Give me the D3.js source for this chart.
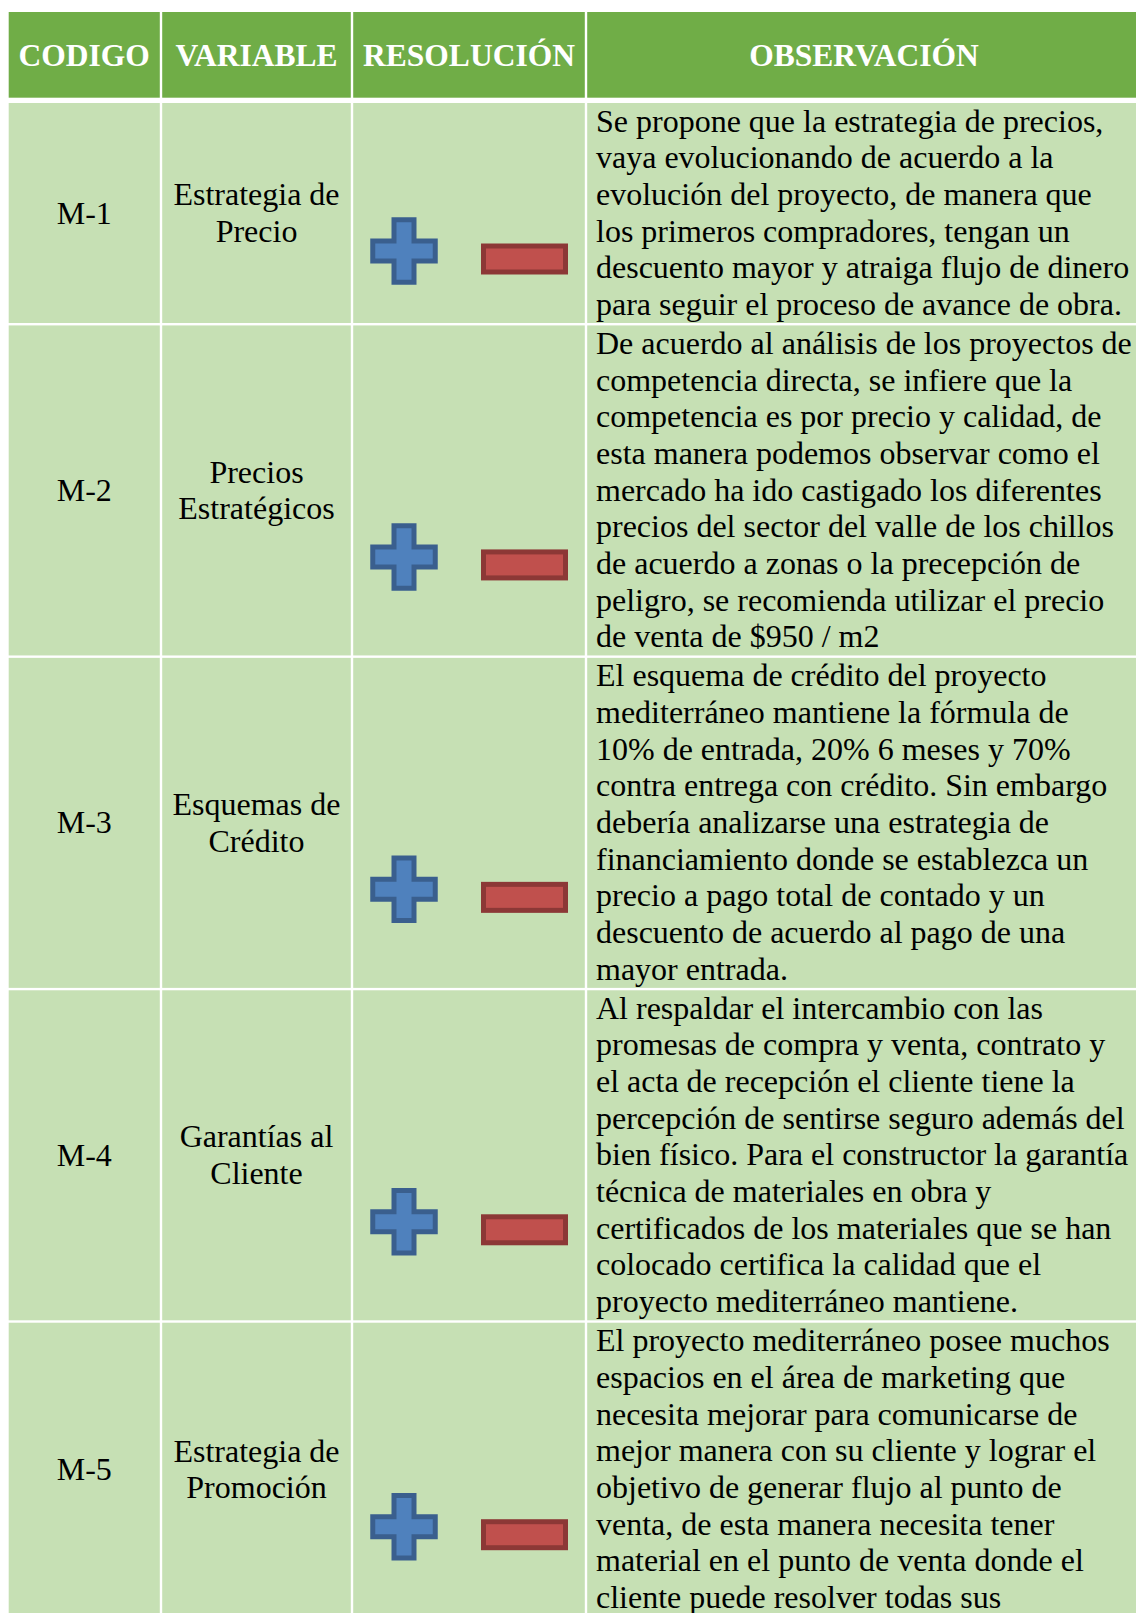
<!DOCTYPE html>
<html>
<head>
<meta charset="utf-8">
<script src="https://cdn.jsdelivr.net/npm/d3@7"></script>
<style>
  html, body { margin: 0; padding: 0; background: #ffffff; }
  svg { display: block; }
</style>
</head>
<body>
<div id="chart"></div>
<script>
// ---------------- DATA ----------------
const headers = ["CODIGO", "VARIABLE", "RESOLUCIÓN", "OBSERVACIÓN"];

const codes = ["M-1", "M-2", "M-3", "M-4", "M-5"];

const variables = [
  ["Estrategia de", "Precio"],
  ["Precios", "Estratégicos"],
  ["Esquemas de", "Crédito"],
  ["Garantías al", "Cliente"],
  ["Estrategia de", "Promoción"]
];

const resolutions = [
  ["mas", "menos"],
  ["mas", "menos"],
  ["mas", "menos"],
  ["mas", "menos"],
  ["mas", "menos"]
];

const observations = [
  ["Se propone que la estrategia de precios,",
   "vaya evolucionando de acuerdo a la",
   "evolución del proyecto, de manera que",
   "los primeros compradores, tengan un",
   "descuento mayor y atraiga flujo de dinero",
   "para seguir el proceso de avance de obra."],
  ["De acuerdo al análisis de los proyectos de",
   "competencia directa, se infiere que la",
   "competencia es por precio y calidad, de",
   "esta manera podemos observar como el",
   "mercado ha ido castigado los diferentes",
   "precios del sector del valle de los chillos",
   "de acuerdo a zonas o la precepción de",
   "peligro, se recomienda utilizar el precio",
   "de venta de $950 / m2"],
  ["El esquema de crédito del proyecto",
   "mediterráneo mantiene la fórmula de",
   "10% de entrada, 20% 6 meses y 70%",
   "contra entrega con crédito. Sin embargo",
   "debería analizarse una estrategia de",
   "financiamiento donde se establezca un",
   "precio a pago total de contado y un",
   "descuento de acuerdo al pago de una",
   "mayor entrada."],
  ["Al respaldar el intercambio con las",
   "promesas de compra y venta, contrato y",
   "el acta de recepción el cliente tiene la",
   "percepción de sentirse seguro además del",
   "bien físico. Para el constructor la garantía",
   "técnica de materiales en obra y",
   "certificados de los materiales que se han",
   "colocado certifica la calidad que el",
   "proyecto mediterráneo mantiene."],
  ["El proyecto mediterráneo posee muchos",
   "espacios en el área de marketing que",
   "necesita mejorar para comunicarse de",
   "mejor manera con su cliente y lograr el",
   "objetivo de generar flujo al punto de",
   "venta, de esta manera necesita tener",
   "material en el punto de venta donde el",
   "cliente puede resolver todas sus"]
];

// ---------------- LAYOUT ----------------
const W = 1136, H = 1613;
const FONT = "'Liberation Serif', 'Times New Roman', Times, serif";
const HEADER_BG = "#70ad47";
const BODY_BG = "#c6e0b4";
const GRID = 2.4;          // white rule width
const LINE_H = 36.67;      // body line height
const BASE_OFF = 28.5;     // first baseline offset within a row
const headerTop = 12, headerBottom = 97.7, firstRowTop = 103;
// vertical anchor of the floating +/- pictures inside each row (from row top)
const iconOffset = [148, 231.5, 231.5, 231.5, 204];

// column edges through an ordinal scale
const colEdges = d3.scaleOrdinal().domain(d3.range(5)).range([8.7, 161, 352, 586, 1142]);

// row extents
const rows = [];
let y = firstRowTop;
observations.forEach((obs, i) => {
  const h = obs.length * LINE_H;
  rows.push({ i, top: y, bottom: y + h });
  y += h + GRID;
});

const svg = d3.select("#chart").append("svg")
  .attr("width", W).attr("height", H)
  .attr("viewBox", `0 0 ${W} ${H}`);

svg.append("rect").attr("width", W).attr("height", H).attr("fill", "#ffffff");

const half = GRID / 2;
function cellX(c) { return colEdges(c) + (c === 0 ? 0 : half); }
function cellW(c) { return colEdges(c + 1) - half - cellX(c); }

// ---- header ----
const gh = svg.append("g");
gh.selectAll("rect").data(headers).join("rect")
  .attr("x", (d, c) => cellX(c))
  .attr("y", headerTop)
  .attr("width", (d, c) => cellW(c))
  .attr("height", headerBottom - headerTop)
  .attr("fill", HEADER_BG);
gh.selectAll("text").data(headers).join("text")
  .attr("x", (d, c) => cellX(c) + cellW(c) / 2)
  .attr("y", (headerTop + headerBottom) / 2 + 11)
  .attr("text-anchor", "middle")
  .attr("font-family", FONT)
  .attr("font-weight", "bold")
  .attr("font-size", 31.5)
  .attr("fill", "#ffffff")
  .text(d => d);

// ---- body ----
const gb = svg.append("g");
rows.forEach(r => {
  const i = r.i;
  const g = gb.append("g");
  const isLast = i === rows.length - 1;
  g.selectAll("rect").data(d3.range(4)).join("rect")
    .attr("x", c => cellX(c))
    .attr("y", r.top)
    .attr("width", c => cellW(c))
    .attr("height", (isLast ? Math.max(r.bottom, H + 10) : r.bottom) - r.top)
    .attr("fill", BODY_BG);

  const mid = (r.top + r.bottom) / 2;
  const capHalf = 10.5;

  // code
  g.append("text")
    .attr("x", cellX(0) + cellW(0) / 2)
    .attr("y", mid + capHalf)
    .attr("text-anchor", "middle")
    .attr("font-family", FONT).attr("font-size", 32).attr("fill", "#000")
    .text(codes[i]);

  // variable (two centered lines)
  const v = variables[i];
  g.selectAll("text.var").data(v).join("text")
    .attr("class", "var")
    .attr("x", cellX(1) + cellW(1) / 2)
    .attr("y", (d, k) => mid + capHalf + (k - (v.length - 1) / 2) * LINE_H)
    .attr("text-anchor", "middle")
    .attr("font-family", FONT).attr("font-size", 32).attr("fill", "#000")
    .text(d => d);

  // resolution pictures
  const cy = r.top + iconOffset[i];
  resolutions[i].forEach(kind => {
    if (kind === "mas") {
      const cx = 404, S = 33.75, A = 12.5;
      const plus = (s, a) => [
        [cx - a, cy - s], [cx + a, cy - s], [cx + a, cy - a], [cx + s, cy - a],
        [cx + s, cy + a], [cx + a, cy + a], [cx + a, cy + s], [cx - a, cy + s],
        [cx - a, cy + a], [cx - s, cy + a], [cx - s, cy - a], [cx - a, cy - a]
      ];
      const line = d3.line();
      g.append("path").attr("d", line(plus(S, A)) + "Z").attr("fill", "#3a5f8e");
      g.append("path").attr("d", line(plus(S - 5, A - 5)) + "Z").attr("fill", "#4f81bd");
    } else {
      const x0 = 481, x1 = 568, y0 = cy - 7.5, y1 = cy + 23.5;
      g.append("rect").attr("x", x0).attr("y", y0).attr("width", x1 - x0).attr("height", y1 - y0)
        .attr("fill", "#8c3836");
      g.append("rect").attr("x", x0 + 5).attr("y", y0 + 5).attr("width", x1 - x0 - 10).attr("height", y1 - y0 - 10)
        .attr("fill", "#c0504d");
    }
  });

  // observation text
  g.selectAll("text.obs").data(observations[i]).join("text")
    .attr("class", "obs")
    .attr("x", 596)
    .attr("y", (d, k) => r.top + BASE_OFF + k * LINE_H)
    .attr("font-family", FONT).attr("font-size", 32).attr("fill", "#000")
    .text(d => d);
});
</script>
</body>
</html>
